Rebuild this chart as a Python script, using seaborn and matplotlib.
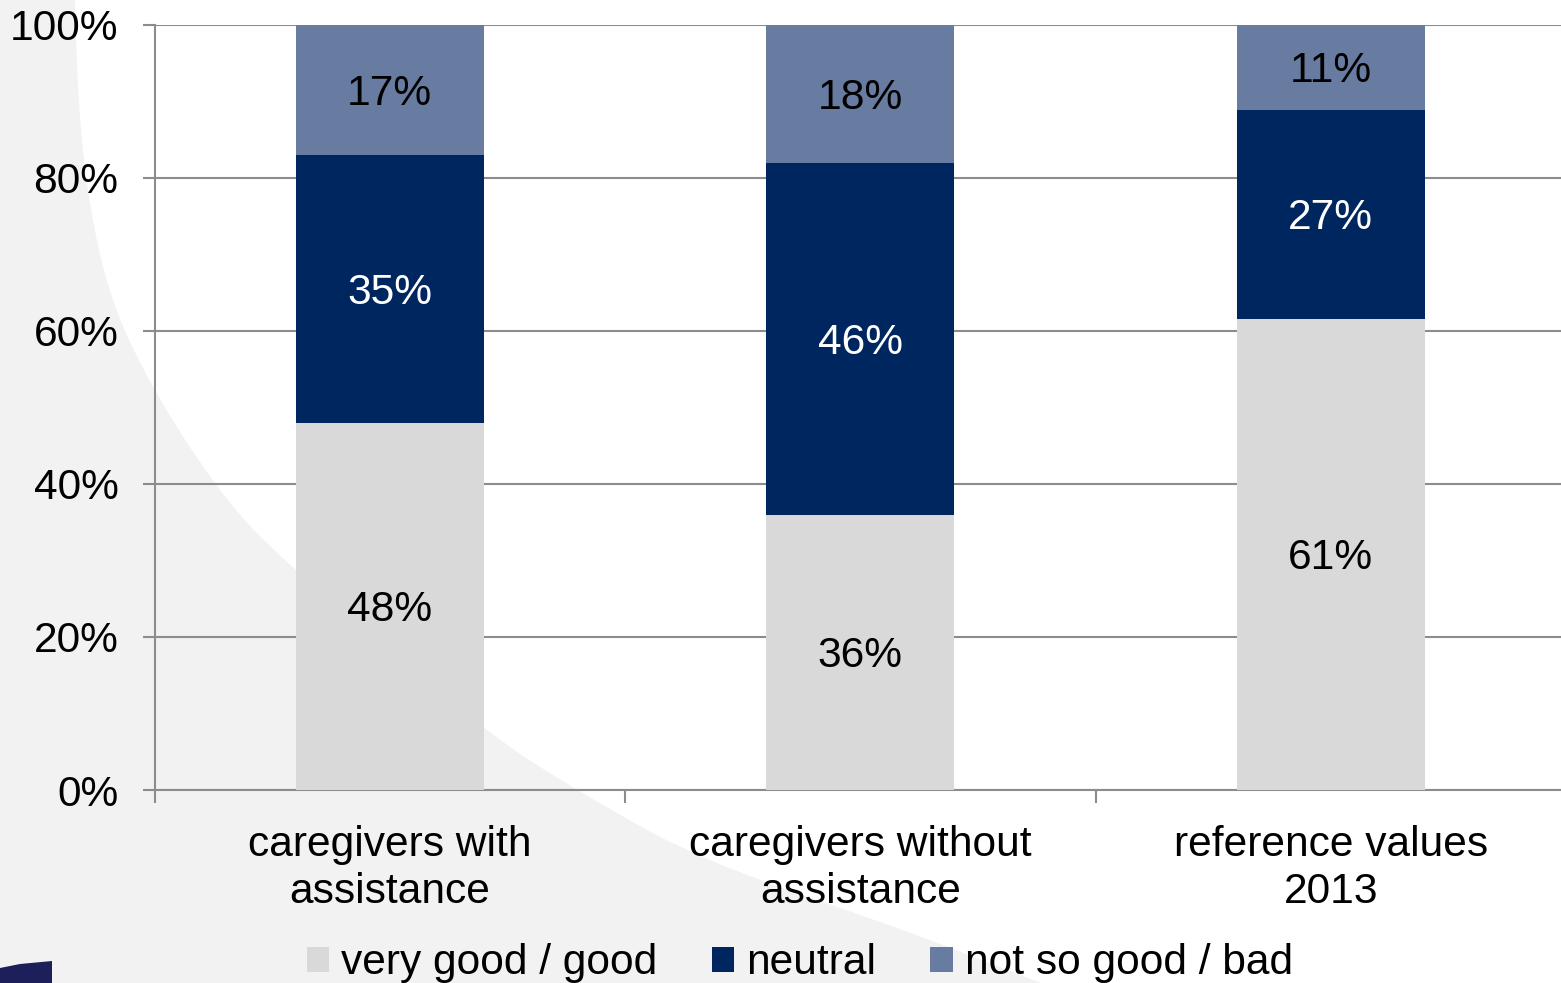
import numpy as np
import pandas as pd
import matplotlib
matplotlib.use("Agg")
import matplotlib.pyplot as plt
from matplotlib.patches import Polygon
import seaborn as sns

# ---- data ----
categories = ["caregivers with\nassistance", "caregivers without\nassistance", "reference values\n2013"]
series_names = ["very good / good", "neutral", "not so good / bad"]
very_good_good = [48, 36, 61]
neutral = [35, 46, 27]
not_so_good_bad = [17, 18, 11]
y_ticks = [0, 20, 40, 60, 80, 100]
y_tick_labels = ["0%", "20%", "40%", "60%", "80%", "100%"]

colors = ["#D9D9D9", "#00265F", "#687BA0"]
label_colors = ["black", "white", "black"]

sns.set_theme(style="white")
plt.rcParams["font.family"] = ["Liberation Sans", "DejaVu Sans"]
FS = 30.6

W, H = 1561, 983
fig = plt.figure(figsize=(W / 100, H / 100), dpi=100)
fig.patch.set_facecolor("white")

# ---- decorative slide background ----
def chaikin(pts, n=4):
    pts = np.asarray(pts, float)
    for _ in range(n):
        q = 0.75 * pts[:-1] + 0.25 * pts[1:]
        r = 0.25 * pts[:-1] + 0.75 * pts[1:]
        new = np.empty((2 * len(q), 2))
        new[0::2] = q
        new[1::2] = r
        pts = np.vstack([pts[:1], new, pts[-1:]])
    return pts

curve = [(74, -5), (75, 0), (78, 100), (88, 200), (110, 300), (153, 390), (213, 483),
         (270, 550), (484, 731), (576, 790), (700, 860), (905, 930), (1020, 975), (1060, 990)]
curve = chaikin(curve, 4)
poly = np.vstack([[(0, -5)], curve, [(0, 990)]])
poly_fig = np.column_stack([poly[:, 0] / W, 1 - poly[:, 1] / H])
fig.add_artist(Polygon(poly_fig, closed=True, facecolor="#F2F2F2", edgecolor="none",
                       transform=fig.transFigure, zorder=-10))
logo = np.array([(0, 968), (20, 964), (52, 961), (52, 985), (0, 985)], float)
logo_fig = np.column_stack([logo[:, 0] / W, 1 - logo[:, 1] / H])
fig.add_artist(Polygon(logo_fig, closed=True, facecolor="#1C1F5A", edgecolor="none",
                       transform=fig.transFigure, zorder=-9))

# ---- axes ----
ax = fig.add_axes([154.5 / W, 193 / H, 1411.5 / W, 765 / H])
ax.set_facecolor("none")

df = pd.DataFrame({"category": categories,
                   series_names[0]: very_good_good,
                   series_names[1]: neutral,
                   series_names[2]: not_so_good_bad})
totals = df[series_names].sum(axis=1).values
bottom = np.zeros(len(categories))
for name, col, lc in zip(series_names, colors, label_colors):
    raw = df[name].values
    share = raw / totals * 100
    sns.barplot(x=df["category"], y=share, bottom=bottom, color=col, width=0.4,
                label=name, ax=ax, saturation=1, zorder=3, linewidth=0)
    for i, (b, s, v) in enumerate(zip(bottom, share, raw)):
        ax.annotate(f"{v}%", xy=(i, b + s / 2), xytext=(0, -4), textcoords="offset pixels",
                    ha="center", va="center", fontsize=FS, color=lc, zorder=4)
    bottom = bottom + share

ax.set_xlim(-0.5, len(categories) - 0.5)
ax.set_ylim(0, 100)
ax.set_xlabel("")
ax.set_ylabel("")

grid_c = "#8C8C8C"
ax.set_yticks(y_ticks)
ax.set_yticklabels(y_tick_labels)
ax.yaxis.grid(True, color=grid_c, linewidth=1.5, zorder=0)
ax.set_axisbelow(True)
ax.tick_params(axis="y", length=9, width=1.5, color=grid_c, pad=17, labelsize=FS,
               left=True, labelcolor="black")

ax.set_xticks(range(len(categories)))
ax.set_xticklabels(categories, fontsize=FS, linespacing=1.25)
ax.tick_params(axis="x", which="major", length=0, pad=25, labelcolor="black")
ax.set_xticks(np.arange(len(categories) + 1) - 0.5, minor=True)
ax.tick_params(axis="x", which="minor", length=9, width=1.5, color=grid_c, bottom=True)

for side in ["top", "right"]:
    ax.spines[side].set_visible(False)
for side in ["left", "bottom"]:
    ax.spines[side].set_visible(True)
    ax.spines[side].set_color(grid_c)
    ax.spines[side].set_linewidth(1.5)

leg = ax.legend(loc="center", bbox_to_anchor=(0.5125, 0.020), bbox_transform=fig.transFigure,
                ncol=3, frameon=False, fontsize=FS, handlelength=0.52, handleheight=0.52,
                handletextpad=0.3, columnspacing=1.27, borderpad=0, borderaxespad=0,
                labelcolor="black")

fig.savefig("out.png", dpi=100)
